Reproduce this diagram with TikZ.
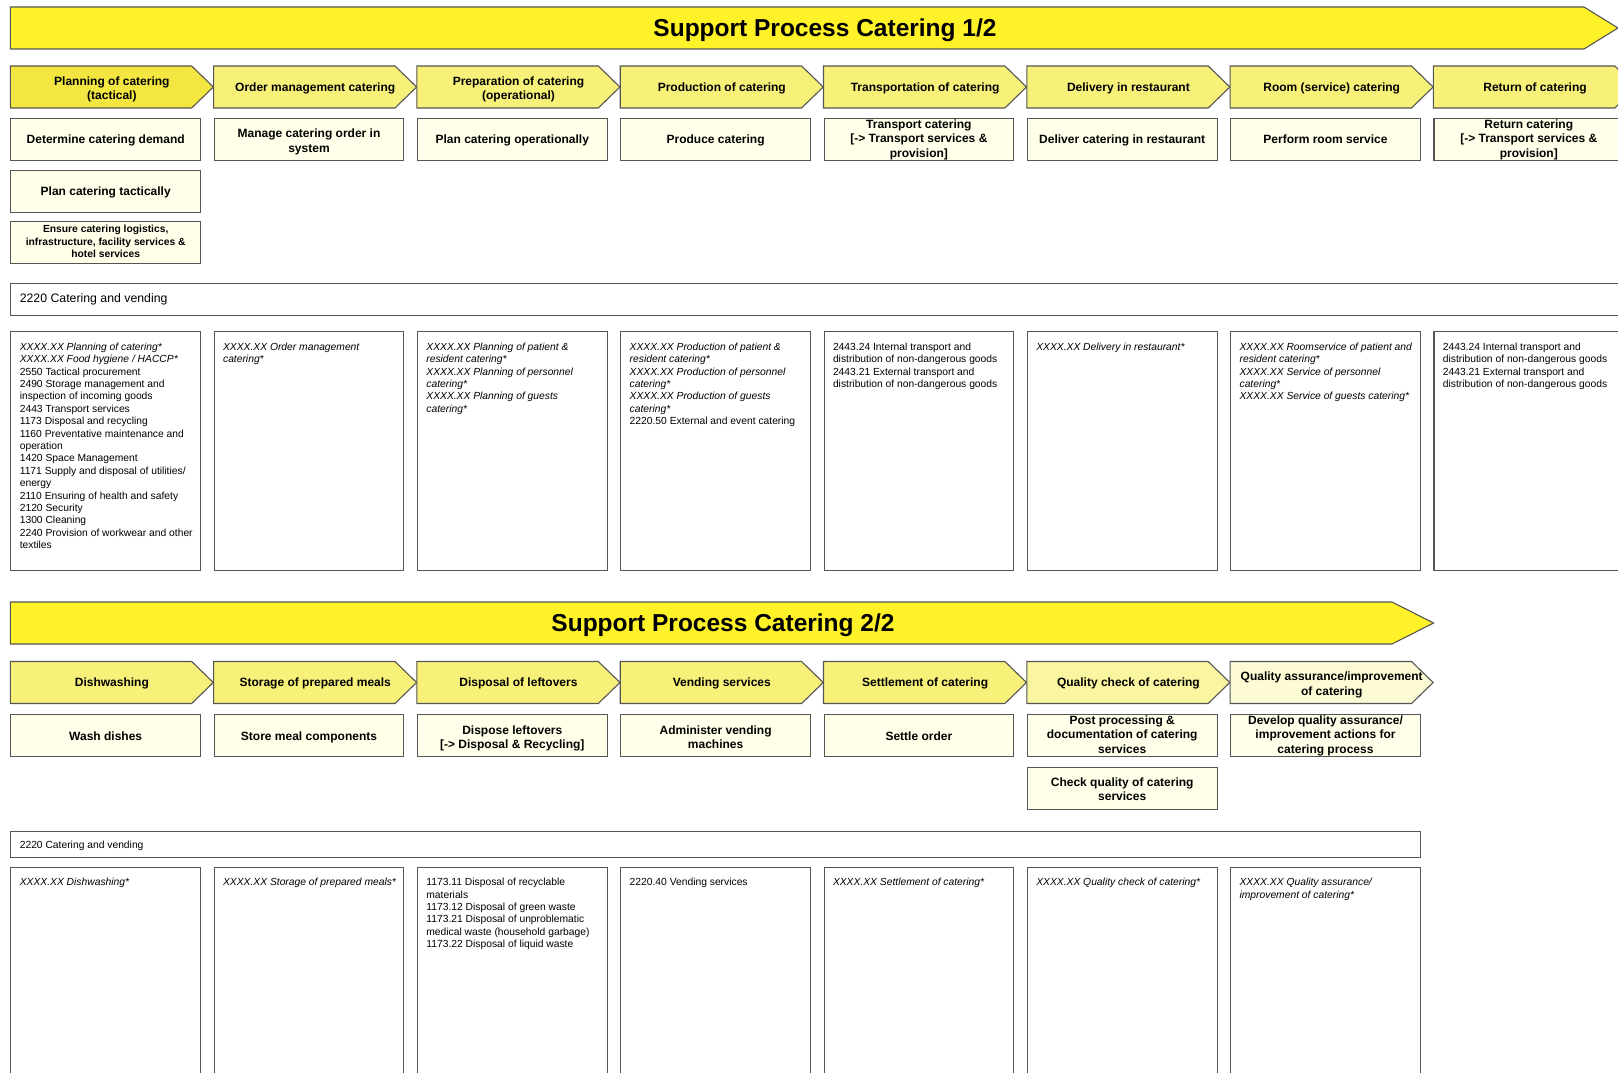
\documentclass[tikz,border=0pt]{standalone}
\usepackage{fontspec}
\setmainfont{Liberation Sans}
\definecolor{bannerY}{RGB}{255,242,40}
\definecolor{chevN}{RGB}{247,241,122}
\definecolor{chevS}{RGB}{243,230,64}
\definecolor{chevL}{RGB}{249,245,160}
\definecolor{chevXL}{RGB}{253,251,212}
\definecolor{boxF}{RGB}{255,255,234}
\definecolor{edge}{RGB}{85,85,85}
\newcommand{\arst}{\rule[-0.212em]{0pt}{1.117em}}
\newcommand{\mlup}{\rule{0pt}{\dimexpr0.905em+2.5pt\relax}}
\tikzset{
  strutted/.style={execute at begin node=\arst, execute at end node=\arst},
  chevline/.style={draw=edge, line width=1.1pt},
  chevtxt/.style={strutted, font=\bfseries\fontsize{12}{14.4}\selectfont, align=center, inner sep=0pt},
  titletxt/.style={strutted, font=\bfseries\fontsize{24.5}{28}\selectfont, inner sep=0pt},
  tbox/.style={strutted, draw=edge, fill=boxF, line width=1.1pt, minimum width=189.7pt, minimum height=42pt,
    anchor=north west, inner xsep=1pt, inner ysep=0pt, align=center, font=\bfseries\fontsize{12}{14.4}\selectfont},
  dbox/.style={draw=edge, fill=white, line width=1.1pt, minimum width=189.7pt, anchor=north west, inner sep=0pt},
  dtext/.style={font=\fontsize{10.3}{12.4}\selectfont, align=left, inner sep=0pt, anchor=north west},
  catbox/.style={draw=edge, fill=white, line width=1.1pt, anchor=north west, inner sep=0pt},
  cattxt/.style={strutted, anchor=west, inner sep=0pt},
}
\newcommand{\chev}[5]{%
  \draw[chevline, fill=#4] (#2,#3) -- ++(181.4,0) -- ++(21.6,21) -- ++(-21.6,21) -- ++(-181.4,0) -- cycle;
  \node[chevtxt] (#1) at ({#2+101.6},{#3+21}) {#5};
}
\newcommand{\dtxt}[4]{%
  \node[dtext] (#1) at ({#2+9.3},{#3+11}) {\rule{0pt}{8pt}#4};
}
\begin{document}
\begin{tikzpicture}[x=1pt, y=-1pt]
\useasboundingbox (0,0) rectangle (1618,1073);
\clip (0,0) rectangle (1618,1073);

% ---------- Banner 1 ----------
\draw[chevline, fill=bannerY] (10.3,7) -- (1584,7) -- (1618,28) -- (1584,49) -- (10.3,49) -- cycle;
\node[titletxt] (title1) at (825,28) {Support Process Catering 1/2};

% ---------- Row 1 chevrons ----------
\chev{c1}{10.3}{66}{chevS}{\mlup Planning of catering\\(tactical)}
\chev{c2}{213.6}{66}{chevN}{Order management catering}
\chev{c3}{416.9}{66}{chevN}{\mlup Preparation of catering\\(operational)}
\chev{c4}{620.2}{66}{chevN}{Production of catering}
\chev{c5}{823.5}{66}{chevN}{Transportation of catering}
\chev{c6}{1026.8}{66}{chevN}{Delivery in restaurant}
\chev{c7}{1230.1}{66}{chevN}{Room (service) catering}
\chev{c8}{1433.4}{66}{chevN}{Return of catering}

% ---------- Row 1 text boxes ----------
\node[tbox] (t1) at (10.3,118) {Determine catering demand};
\node[tbox] (t2) at (213.6,118) {\mlup Manage catering order in\\system};
\node[tbox] (t3) at (416.9,118) {Plan catering operationally};
\node[tbox] (t4) at (620.2,118) {Produce catering};
\node[tbox] (t5) at (823.5,118) {Transport catering\\{[}-> Transport services \&\\provision{]}};
\node[tbox] (t6) at (1026.8,118) {Deliver catering in restaurant};
\node[tbox] (t7) at (1230.1,118) {Perform room service};
\node[tbox] (t8) at (1433.4,118) {Return catering\\{[}-> Transport services \&\\provision{]}};
\node[tbox] (t1b) at (10.3,170) {Plan catering tactically};
\node[tbox, font=\bfseries\fontsize{10.3}{12.4}\selectfont] (t1c) at (10.3,221) {Ensure catering logistics,\\infrastructure, facility services \&\\hotel services};

% ---------- Row 1 category ----------
\node[catbox, minimum width=1640pt, minimum height=32pt] (cat1) at (10.3,282.7) {};
\node[cattxt, font=\fontsize{12.3}{14}\selectfont] (cat1t) at (19.6,298.7) {2220 Catering and vending};

% ---------- Row 1 description boxes ----------
\node[dbox, minimum height=238.6pt] (d1) at (10.3,331) {};
\node[dbox, minimum height=238.6pt] (d2) at (213.6,331) {};
\node[dbox, minimum height=238.6pt] (d3) at (416.9,331) {};
\node[dbox, minimum height=238.6pt] (d4) at (620.2,331) {};
\node[dbox, minimum height=238.6pt] (d5) at (823.5,331) {};
\node[dbox, minimum height=238.6pt] (d6) at (1026.8,331) {};
\node[dbox, minimum height=238.6pt] (d7) at (1230.1,331) {};
\node[dbox, minimum height=238.6pt] (d8) at (1433.4,331) {};

\dtxt{dt1}{10.3}{331}{\textit{XXXX.XX Planning of catering*}\\\textit{XXXX.XX Food hygiene / HACCP*}\\2550 Tactical procurement\\2490 Storage management and\\inspection of incoming goods\\2443 Transport services\\1173 Disposal and recycling\\1160 Preventative maintenance and\\operation\\1420 Space Management\\1171 Supply and disposal of utilities/\\energy\\2110 Ensuring of health and safety\\2120 Security\\1300 Cleaning\\2240 Provision of workwear and other\\textiles}
\dtxt{dt2}{213.6}{331}{\textit{XXXX.XX Order management}\\\textit{catering*}}
\dtxt{dt3}{416.9}{331}{\textit{XXXX.XX Planning of patient \&}\\\textit{resident catering*}\\\textit{XXXX.XX Planning of personnel}\\\textit{catering*}\\\textit{XXXX.XX Planning of guests}\\\textit{catering*}}
\dtxt{dt4}{620.2}{331}{\textit{XXXX.XX Production of patient \&}\\\textit{resident catering*}\\\textit{XXXX.XX Production of personnel}\\\textit{catering*}\\\textit{XXXX.XX Production of guests}\\\textit{catering*}\\2220.50 External and event catering}
\dtxt{dt5}{823.5}{331}{2443.24 Internal transport and\\distribution of non-dangerous goods\\2443.21 External transport and\\distribution of non-dangerous goods}
\dtxt{dt6}{1026.8}{331}{\textit{XXXX.XX Delivery in restaurant*}}
\dtxt{dt7}{1230.1}{331}{\textit{XXXX.XX Roomservice of patient and}\\\textit{resident catering*}\\\textit{XXXX.XX Service of personnel}\\\textit{catering*}\\\textit{XXXX.XX Service of guests catering*}}
\dtxt{dt8}{1433.4}{331}{2443.24 Internal transport and\\distribution of non-dangerous goods\\2443.21 External transport and\\distribution of non-dangerous goods}

% ---------- Banner 2 ----------
\draw[chevline, fill=bannerY] (10.3,602) -- (1392,602) -- (1433.5,623) -- (1392,644) -- (10.3,644) -- cycle;
\node[titletxt] (title2) at (723,623) {Support Process Catering 2/2};

% ---------- Row 2 chevrons ----------
\chev{e1}{10.3}{661.5}{chevN}{Dishwashing}
\chev{e2}{213.6}{661.5}{chevN}{Storage of prepared meals}
\chev{e3}{416.9}{661.5}{chevN}{Disposal of leftovers}
\chev{e4}{620.2}{661.5}{chevN}{Vending services}
\chev{e5}{823.5}{661.5}{chevN}{Settlement of catering}
\chev{e6}{1026.8}{661.5}{chevL}{Quality check of catering}
\chev{e7}{1230.1}{661.5}{chevXL}{\mlup Quality assurance/improvement\\of catering}

% ---------- Row 2 text boxes ----------
\node[tbox] (u1) at (10.3,714.3) {Wash dishes};
\node[tbox] (u2) at (213.6,714.3) {Store meal components};
\node[tbox] (u3) at (416.9,714.3) {\mlup Dispose leftovers\\{[}-> Disposal \& Recycling{]}};
\node[tbox] (u4) at (620.2,714.3) {\mlup Administer vending\\machines};
\node[tbox] (u5) at (823.5,714.3) {Settle order};
\node[tbox] (u6) at (1026.8,714.3) {Post processing \&\\documentation of catering\\services};
\node[tbox] (u7) at (1230.1,714.3) {Develop quality assurance/\\improvement actions for\\catering process};
\node[tbox] (u6b) at (1026.8,766.7) {\mlup Check quality of catering\\services};

% ---------- Row 2 category ----------
\node[catbox, minimum width=1409.5pt, minimum height=25.8pt] (cat2) at (10.3,830.7) {};
\node[cattxt, font=\fontsize{10.3}{12}\selectfont] (cat2t) at (19.6,845.4) {2220 Catering and vending};

% ---------- Row 2 description boxes ----------
\node[dbox, minimum height=230pt] (f1) at (10.3,866.5) {};
\node[dbox, minimum height=230pt] (f2) at (213.6,866.5) {};
\node[dbox, minimum height=230pt] (f3) at (416.9,866.5) {};
\node[dbox, minimum height=230pt] (f4) at (620.2,866.5) {};
\node[dbox, minimum height=230pt] (f5) at (823.5,866.5) {};
\node[dbox, minimum height=230pt] (f6) at (1026.8,866.5) {};
\node[dbox, minimum height=230pt] (f7) at (1230.1,866.5) {};

\dtxt{ft1}{10.3}{866.5}{\textit{XXXX.XX Dishwashing*}}
\dtxt{ft2}{213.6}{866.5}{\textit{XXXX.XX Storage of prepared meals*}}
\dtxt{ft3}{416.9}{866.5}{1173.11 Disposal of recyclable\\materials\\1173.12 Disposal of green waste\\1173.21 Disposal of unproblematic\\medical waste (household garbage)\\1173.22 Disposal of liquid waste}
\dtxt{ft4}{620.2}{866.5}{2220.40 Vending services}
\dtxt{ft5}{823.5}{866.5}{\textit{XXXX.XX Settlement of catering*}}
\dtxt{ft6}{1026.8}{866.5}{\textit{XXXX.XX Quality check of catering*}}
\dtxt{ft7}{1230.1}{866.5}{\textit{XXXX.XX Quality assurance/}\\\textit{improvement of catering*}}
\end{tikzpicture}
\end{document}
